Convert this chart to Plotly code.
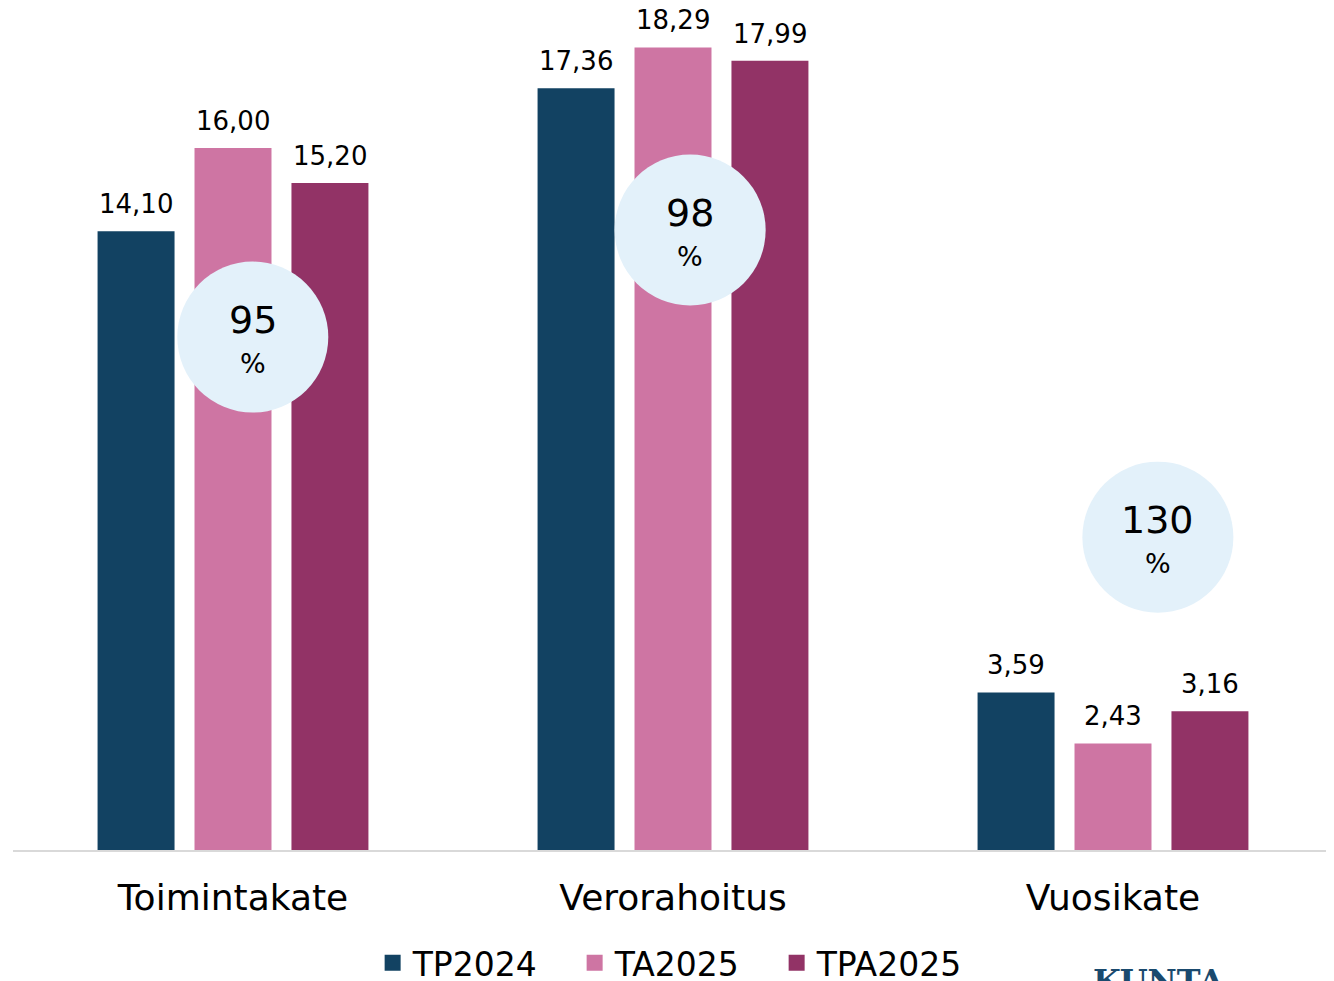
import plotly.graph_objects as go

categories = ["Toimintakate", "Verorahoitus", "Vuosikate"]
series_names = ["TP2024", "TA2025", "TPA2025"]
tp2024 = [14.10, 17.36, 3.59]
ta2025 = [16.00, 18.29, 2.43]
tpa2025 = [15.20, 17.99, 3.16]
colors = ["#124262", "#CE75A3", "#923366"]

# percentage bubbles
bubble_labels = ["95", "98", "130"]
bubble_x = [0.045, 1.039, 2.102]
bubble_y = [11.69, 14.13, 7.13]

FONT = "DejaVu Sans"
BARGAP = 0.339
GROUPGAP = 0.206

fig = go.Figure()
series = [tp2024, ta2025, tpa2025]
for name, vals, col in zip(series_names, series, colors):
    fig.add_trace(go.Bar(
        name=name, x=categories, y=vals, marker_color=col, marker_line_width=0,
        showlegend=False, hoverinfo="skip",
    ))

# legend entries with larger square symbols
for name, col in zip(series_names, colors):
    fig.add_trace(go.Scatter(
        name=name, x=[None], y=[None], mode="markers",
        marker=dict(symbol="square", size=20, color=col), showlegend=True,
    ))

# bubbles on a numeric overlay axis
fig.add_trace(go.Scatter(
    x=bubble_x, y=bubble_y, xaxis="x2", yaxis="y", mode="markers", showlegend=False,
    hoverinfo="skip", marker=dict(size=151, color="#E3F1FA", line_width=0), cliponaxis=False,
))

# value labels (placed over the bar slots)
slot = (1 - BARGAP) / len(series)
annotations = []
for si, vals in enumerate(series):
    for ci, v in enumerate(vals):
        annotations.append(dict(
            x=ci + (si - 1) * slot, y=v, xref="x2", yref="y",
            text=f"{v:.2f}".replace(".", ","), showarrow=False,
            xanchor="center", yanchor="bottom", yshift=10,
            font=dict(size=26, family=FONT, color="#000000"),
        ))

for bx, by, bl in zip(bubble_x, bubble_y, bubble_labels):
    annotations.append(dict(x=bx, y=by, xref="x2", yref="y", text=bl, showarrow=False,
                            xanchor="center", yanchor="middle", yshift=17,
                            font=dict(size=38, family=FONT, color="#000000")))
    annotations.append(dict(x=bx, y=by, xref="x2", yref="y", text="%", showarrow=False,
                            xanchor="center", yanchor="middle", yshift=-26,
                            font=dict(size=27, family=FONT, color="#000000")))

annotations.append(dict(text="<b>KUNTA</b>", xref="paper", yref="paper", x=0.868, y=-0.131,
                        xanchor="center", yanchor="top", showarrow=False,
                        font=dict(size=32, color="#1A4A6E", family="DejaVu Serif")))

fig.update_layout(
    width=1326, height=973,
    margin=dict(l=5, r=1, t=0, b=131, autoexpand=False),
    paper_bgcolor="white", plot_bgcolor="white",
    barmode="group", bargap=BARGAP, bargroupgap=GROUPGAP,
    font=dict(family=FONT, color="#000000"),
    showlegend=True,
    legend=dict(orientation="h", x=0.502, xanchor="center", y=-0.134, yanchor="middle",
                font=dict(size=33, family=FONT), itemsizing="trace", traceorder="normal",
                entrywidth=157, bgcolor="rgba(0,0,0,0)"),
    annotations=annotations,
    xaxis=dict(type="category", range=[-0.5, 2.5], showline=True, linecolor="#D9D9D9", linewidth=2,
               ticks="", tickfont=dict(size=36, family=FONT), ticklabelstandoff=15, showgrid=False,
               fixedrange=True),
    xaxis2=dict(overlaying="x", range=[-0.5, 2.5], visible=False, anchor="y", fixedrange=True),
    yaxis=dict(range=[0, 19.19], visible=False, showgrid=False, zeroline=False),
)

fig.write_html("out.html")
